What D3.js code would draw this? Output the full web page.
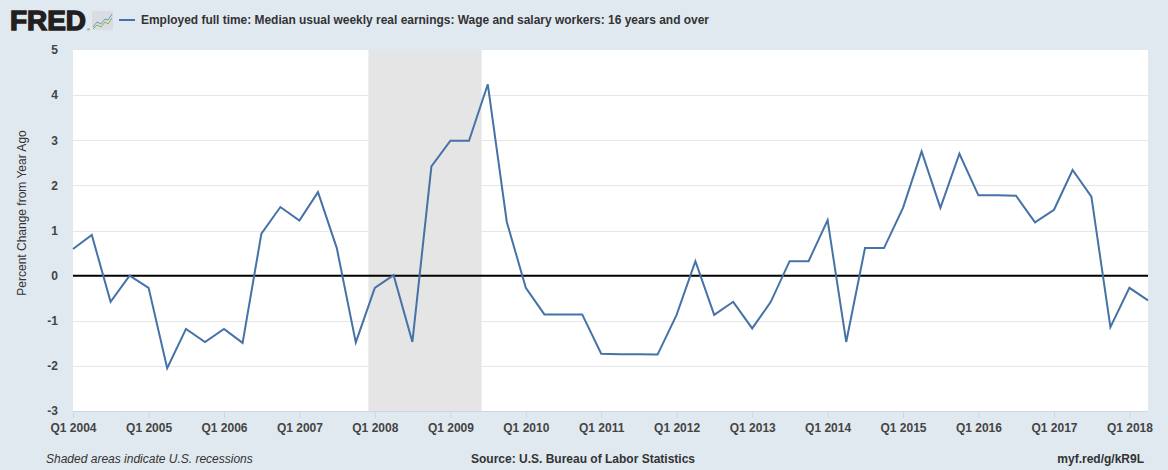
<!DOCTYPE html>
<html>
<head>
<meta charset="utf-8">
<script src="https://cdn.jsdelivr.net/npm/d3@7"></script>
<style>
  html, body { margin: 0; padding: 0; background: #e1e9f0; }
  svg { display: block; }
  text { font-family: "Liberation Sans", Arial, sans-serif; }
</style>
</head>
<body>
<svg id="chart" width="1168" height="470"></svg>
<script>
// ---- Data ----
const seriesName = "Employed full time: Median usual weekly real earnings: Wage and salary workers: 16 years and over";
const startQuarter = "2004-01-01";
const values = [
  0.59, 0.90, -0.58, 0.00,      // 2004
  -0.27, -2.05, -1.18, -1.47,   // 2005
  -1.18, -1.49, 0.93, 1.52,     // 2006
  1.22, 1.85, 0.61, -1.48,      // 2007
  -0.27, 0.01, -1.47, 2.42,     // 2008
  2.99, 2.99, 4.24, 1.19,       // 2009
  -0.27, -0.86, -0.86, -0.86,   // 2010
  -1.73, -1.74, -1.74, -1.75,   // 2011
  -0.87, 0.32, -0.87, -0.58,    // 2012
  -1.17, -0.58, 0.32, 0.32,     // 2013
  1.23, -1.47, 0.61, 0.61,      // 2014
  1.50, 2.75, 1.50, 2.70,       // 2015
  1.78, 1.78, 1.77, 1.18,       // 2016
  1.46, 2.34, 1.75, -1.14,      // 2017
  -0.27, -0.55                  // 2018
];
const recessions = [["2007-12-01", "2009-06-01"]];
const yTicks = [-3, -2, -1, 0, 1, 2, 3, 4, 5];
const xTickYears = [2004, 2005, 2006, 2007, 2008, 2009, 2010, 2011, 2012, 2013, 2014, 2015, 2016, 2017, 2018];

// ---- Build dated series ----
const parse = d3.utcParse("%Y-%m-%d");
const start = parse(startQuarter);
const data = values.map((v, i) => ({ date: d3.utcMonth.offset(start, i * 3), value: v }));

// ---- Layout ----
const svg = d3.select("#chart");
const plot = { left: 73, top: 50, right: 1148, bottom: 411 };

const x = d3.scaleUtc()
  .domain([data[0].date, data[data.length - 1].date])
  .range([plot.left, plot.right]);
const y = d3.scaleLinear().domain([-3, 5]).range([plot.bottom, plot.top]);

// background plot area
svg.append("rect")
  .attr("x", plot.left).attr("y", plot.top)
  .attr("width", plot.right - plot.left).attr("height", plot.bottom - plot.top)
  .attr("fill", "#ffffff");

// recession shading
svg.append("g").selectAll("rect").data(recessions).join("rect")
  .attr("x", d => x(parse(d[0])))
  .attr("y", plot.top)
  .attr("width", d => x(parse(d[1])) - x(parse(d[0])))
  .attr("height", plot.bottom - plot.top)
  .attr("fill", "#e5e5e5");

// grid lines
svg.append("g").selectAll("line").data(yTicks.filter(t => t !== 0 && t !== -3 && t !== 5)).join("line")
  .attr("x1", plot.left).attr("x2", plot.right)
  .attr("y1", d => Math.round(y(d)) + 0.5).attr("y2", d => Math.round(y(d)) + 0.5)
  .attr("stroke", "#e6e6e6").attr("stroke-width", 1);

// y axis labels
const yAxis = d3.axisLeft(y).tickValues(yTicks).tickSize(0).tickPadding(0).tickFormat(d => String(d));
const yg = svg.append("g").attr("transform", `translate(${plot.left - 15},0)`).call(yAxis);
yg.select(".domain").remove();
yg.selectAll("text")
  .attr("font-family", "Liberation Sans, Arial, sans-serif")
  .attr("font-size", 12).attr("font-weight", "bold").attr("fill", "#444");

// y-axis title
svg.append("text")
  .attr("transform", `translate(26,213) rotate(-90)`)
  .attr("text-anchor", "middle")
  .attr("font-size", 12).attr("fill", "#333")
  .text("Percent Change from Year Ago");

// x axis
const xTickDates = xTickYears.map(yv => new Date(Date.UTC(yv, 0, 1)));
const xAxis = d3.axisBottom(x).tickValues(xTickDates).tickSize(7).tickPadding(5)
  .tickFormat(d => "Q1 " + d.getUTCFullYear());
const xg = svg.append("g").attr("transform", `translate(0,${plot.bottom})`).call(xAxis);
xg.select(".domain").attr("stroke", "#ccd6eb").attr("d", `M${plot.left},0.5H${plot.right}`);
xg.selectAll(".tick line").attr("stroke", "#ccd6eb");
xg.selectAll("text")
  .attr("font-family", "Liberation Sans, Arial, sans-serif")
  .attr("font-size", 12).attr("font-weight", "bold").attr("fill", "#444");

// zero line
svg.append("line")
  .attr("x1", plot.left).attr("x2", plot.right)
  .attr("y1", y(0)).attr("y2", y(0))
  .attr("stroke", "#000").attr("stroke-width", 2);

// series line
const line = d3.line().x(d => x(d.date)).y(d => y(d.value));
svg.append("path").datum(data)
  .attr("d", line)
  .attr("fill", "none")
  .attr("stroke", "#4572a7")
  .attr("stroke-width", 2)
  .attr("stroke-linejoin", "miter");

// ---- Header: FRED logo + legend ----
svg.append("text")
  .attr("x", 10).attr("y", 30)
  .attr("font-family", "Liberation Sans, Arial, sans-serif")
  .attr("font-size", 27).attr("font-weight", "bold")
  .attr("fill", "#231f20").attr("stroke", "#231f20").attr("stroke-width", 1.4)
  .attr("textLength", 76).attr("lengthAdjust", "spacingAndGlyphs")
  .text("FRED");
svg.append("text")
  .attr("x", 87).attr("y", 31)
  .attr("font-size", 4).attr("fill", "#231f20").text("®");
// logo icon
const icon = svg.append("g").attr("transform", "translate(92,11)");
icon.append("rect").attr("width", 21).attr("height", 19).attr("rx", 2).attr("fill", "#d9dde2");
icon.append("path").attr("d", "M1,16 L5,11 L9,13 L13,8 L16,9 L20,3")
  .attr("fill", "none").attr("stroke", "#6f9bc4").attr("stroke-width", 1);
icon.append("path").attr("d", "M1,18 L5,14 L9,16 L13,11 L16,13 L20,7")
  .attr("fill", "none").attr("stroke", "#8bb04b").attr("stroke-width", 1);

svg.append("line")
  .attr("x1", 119).attr("x2", 135).attr("y1", 20).attr("y2", 20)
  .attr("stroke", "#4572a7").attr("stroke-width", 2);
svg.append("text")
  .attr("x", 141).attr("y", 24)
  .attr("font-size", 12).attr("font-weight", "bold").attr("fill", "#333")
  .attr("textLength", 568).attr("lengthAdjust", "spacingAndGlyphs")
  .text(seriesName);

// ---- Footer ----
svg.append("text")
  .attr("x", 46).attr("y", 463)
  .attr("font-size", 12).attr("font-style", "italic").attr("fill", "#333")
  .text("Shaded areas indicate U.S. recessions");
svg.append("text")
  .attr("x", 583).attr("y", 463).attr("text-anchor", "middle")
  .attr("font-size", 12).attr("font-weight", "bold").attr("fill", "#333")
  .text("Source: U.S. Bureau of Labor Statistics");
svg.append("text")
  .attr("x", 1144).attr("y", 463).attr("text-anchor", "end")
  .attr("font-size", 12).attr("font-weight", "bold").attr("fill", "#333")
  .text("myf.red/g/kR9L");
</script>
</body>
</html>
